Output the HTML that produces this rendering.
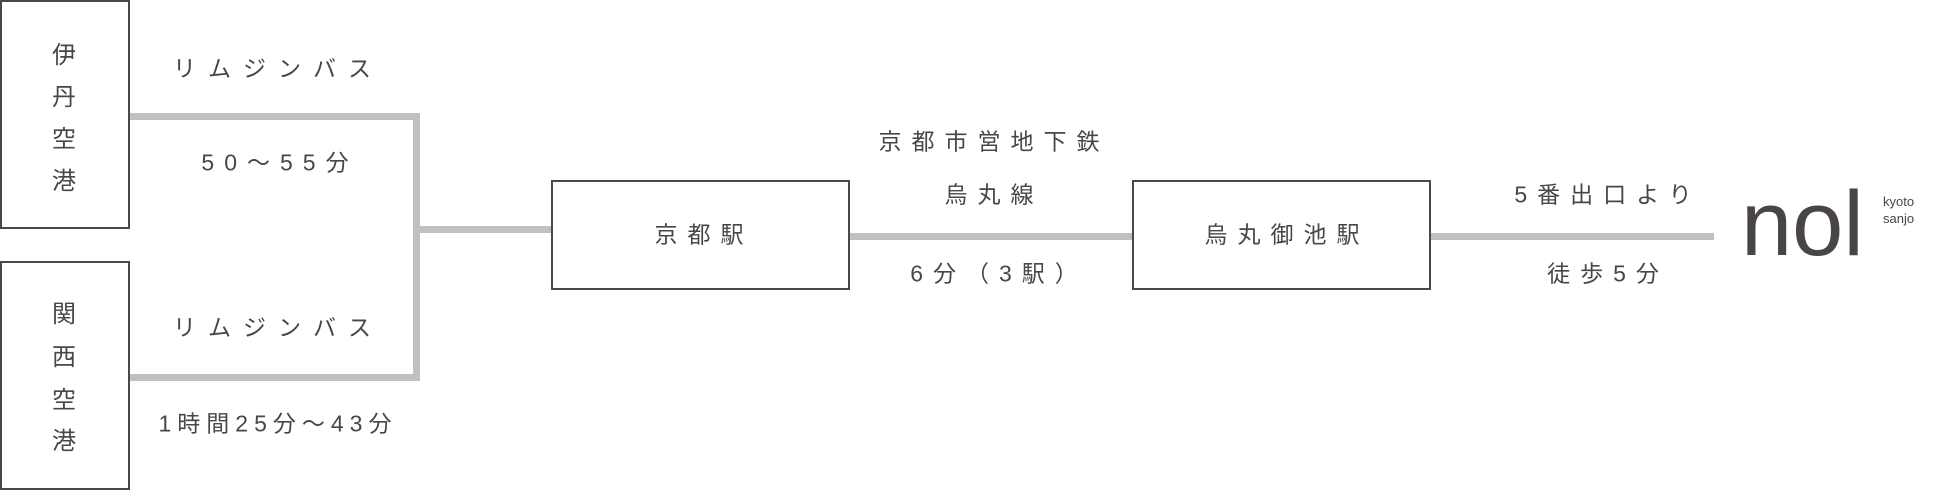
<!DOCTYPE html>
<html><head><meta charset="utf-8"><style>
body{margin:0;width:1936px;height:490px;background:#fff;position:relative;overflow:hidden;font-family:"Liberation Sans","Noto Sans CJK JP",sans-serif;color:#4a4646}
.b{position:absolute;border:2px solid #4d4848;box-sizing:border-box}
.l{position:absolute;background:#c0c0c0}
.t{position:absolute;font-size:23px;letter-spacing:10px;white-space:nowrap;transform:translate(-50%,-50%);line-height:1}
.v{position:absolute;font-size:24px;transform:translate(-50%,-50%);line-height:1}
</style></head><body>
<div class="b" style="left:0;top:0;width:130px;height:229px"></div>
<div class="b" style="left:0;top:261px;width:130px;height:229px"></div>
<div class="v" style="left:64px;top:56px">伊</div>
<div class="v" style="left:64px;top:98px">丹</div>
<div class="v" style="left:64px;top:140px">空</div>
<div class="v" style="left:64px;top:182px">港</div>
<div class="v" style="left:64px;top:315px">関</div>
<div class="v" style="left:64px;top:358px">西</div>
<div class="v" style="left:64px;top:401px">空</div>
<div class="v" style="left:64px;top:442px">港</div>
<div class="l" style="left:130px;top:113px;width:290px;height:7px"></div>
<div class="l" style="left:413px;top:113px;width:7px;height:268px"></div>
<div class="l" style="left:130px;top:374px;width:290px;height:7px"></div>
<div class="l" style="left:420px;top:226px;width:131px;height:7px"></div>
<div class="b" style="left:551px;top:180px;width:299px;height:110px"></div>
<div class="l" style="left:850px;top:233px;width:282px;height:7px"></div>
<div class="b" style="left:1132px;top:180px;width:299px;height:110px"></div>
<div class="l" style="left:1431px;top:233px;width:283px;height:7px"></div>
<div class="t" style="left:278px;top:69px;letter-spacing:12px">リムジンバス</div>
<div class="t" style="left:280px;top:163px">50〜55分</div>
<div class="t" style="left:278px;top:328px;letter-spacing:12px">リムジンバス</div>
<div class="t" style="left:278px;top:424px;letter-spacing:6px">1時間25分〜43分</div>
<div class="t" style="left:704px;top:235px">京都駅</div>
<div class="t" style="left:994px;top:142px">京都市営地下鉄</div>
<div class="t" style="left:994px;top:195px">烏丸線</div>
<div class="t" style="left:999px;top:274px">6分（3駅）</div>
<div class="t" style="left:1287px;top:235px">烏丸御池駅</div>
<div class="t" style="left:1608px;top:195px">5番出口より</div>
<div class="t" style="left:1608px;top:274px">徒歩5分</div>
<div style="position:absolute;left:1741px;top:178px;font-size:92px;line-height:1;color:#4a4545">nol</div>
<div style="position:absolute;left:1883px;top:193px;font-size:13px;line-height:17px;color:#4a4545">kyoto<br>sanjo</div>
</body></html>
